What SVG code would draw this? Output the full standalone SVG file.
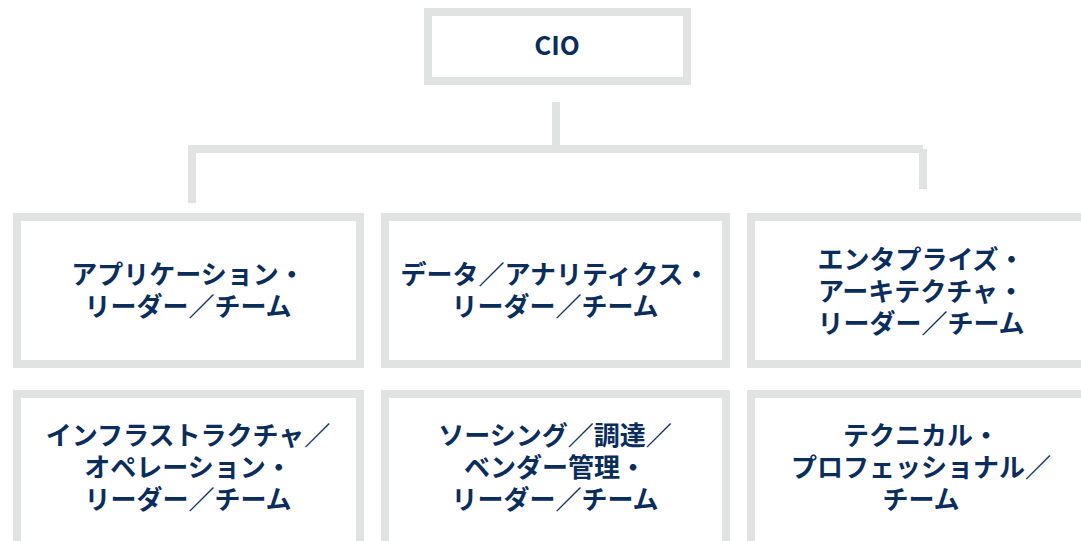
<svg xmlns="http://www.w3.org/2000/svg" width="1081" height="541" viewBox="0 0 1081 541">
<style>
.box{fill:#ffffff;stroke:#e1e3e2;stroke-width:8}
.conn{fill:none;stroke:#e1e3e2;stroke-width:8}
.lbl{font-family:"Noto Sans CJK JP","Noto Sans",sans-serif;font-weight:700;font-size:26px;fill:#0b2d5b;text-anchor:middle}
</style>
<rect x="0" y="0" width="1081" height="541" fill="#ffffff"/>
<g id="connectors">
<line class="conn" x1="556" y1="102" x2="556" y2="149"/>
<line class="conn" x1="188" y1="149" x2="923" y2="149"/>
<line class="conn" x1="192" y1="145" x2="192" y2="203"/>
<line class="conn" x1="923" y1="149" x2="923" y2="189"/>
</g>
<g id="cio">
<rect class="box" x="428" y="12" width="259" height="69"/>
<text class="lbl" x="557" y="55">CIO</text>
</g>
<g id="app">
<rect class="box" x="17" y="217" width="343" height="147"/>
<text class="lbl" x="188" y="284">アプリケーション・</text>
<text class="lbl" x="188" y="316">リーダー／チーム</text>
</g>
<g id="data">
<rect class="box" x="385" y="217" width="341" height="147"/>
<text class="lbl" x="555" y="284">データ／アナリティクス・</text>
<text class="lbl" x="555" y="316">リーダー／チーム</text>
</g>
<g id="ea">
<rect class="box" x="751" y="217" width="343" height="147"/>
<text class="lbl" x="921" y="269">エンタプライズ・</text>
<text class="lbl" x="921" y="301">アーキテクチャ・</text>
<text class="lbl" x="921" y="333">リーダー／チーム</text>
</g>
<g id="infra">
<rect class="box" x="17" y="394" width="343" height="151"/>
<text class="lbl" x="188" y="445">インフラストラクチャ／</text>
<text class="lbl" x="188" y="477">オペレーション・</text>
<text class="lbl" x="188" y="509">リーダー／チーム</text>
</g>
<g id="sourcing">
<rect class="box" x="385" y="394" width="341" height="151"/>
<text class="lbl" x="555" y="445">ソーシング／調達／</text>
<text class="lbl" x="555" y="477">ベンダー管理・</text>
<text class="lbl" x="555" y="509">リーダー／チーム</text>
</g>
<g id="tech">
<rect class="box" x="751" y="394" width="343" height="151"/>
<text class="lbl" x="921" y="445">テクニカル・</text>
<text class="lbl" x="921" y="477">プロフェッショナル／</text>
<text class="lbl" x="921" y="509">チーム</text>
</g>
</svg>
